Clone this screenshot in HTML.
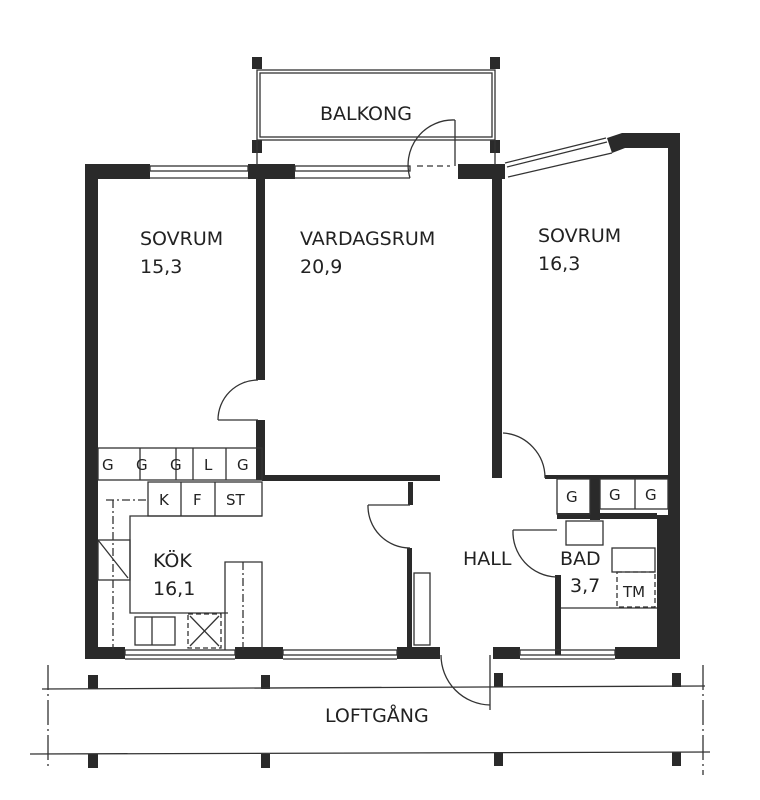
<!DOCTYPE html>
<html><head><meta charset="utf-8"><style>
html,body{margin:0;padding:0;background:#fff;}
svg{display:block}
text{font-family:"DejaVu Sans","Liberation Sans",sans-serif;fill:#222;}
</style></head><body>
<svg width="760" height="800" viewBox="0 0 760 800" xmlns="http://www.w3.org/2000/svg">
<g fill="#2a2a2a" stroke="none">
<rect x="85" y="165" width="13" height="493"/>
<rect x="85" y="164" width="65" height="15"/>
<rect x="248" y="164" width="47" height="15"/>
<rect x="458" y="164" width="47" height="15"/>
<polygon points="607,138 622,133 680,133 680,148 625,148 612,153"/>
<rect x="668" y="133" width="12" height="522"/>
<rect x="657" y="515" width="23" height="140"/>
<rect x="256" y="178" width="9" height="202"/>
<rect x="256" y="420" width="9" height="60"/>
<rect x="262" y="475" width="178" height="6"/>
<rect x="492" y="178" width="10" height="300"/>
<rect x="590" y="475" width="10" height="45"/>
<rect x="545" y="475" width="123" height="4"/>
<rect x="557" y="513" width="100" height="6"/>
<rect x="555" y="575" width="6" height="80"/>
<rect x="408" y="482" width="5" height="23"/>
<rect x="407" y="548" width="5" height="100"/>
<rect x="85" y="647" width="40" height="12"/>
<rect x="235" y="647" width="48" height="12"/>
<rect x="397" y="647" width="43" height="12"/>
<rect x="493" y="647" width="27" height="12"/>
<rect x="615" y="647" width="65" height="12"/>
<rect x="252" y="57" width="10" height="12"/><rect x="490" y="57" width="10" height="12"/>
<rect x="252" y="140" width="10" height="13"/><rect x="490" y="140" width="10" height="13"/>
<rect x="88" y="675" width="10" height="14"/><rect x="261" y="675" width="9" height="14"/>
<rect x="494" y="673" width="9" height="14"/><rect x="672" y="673" width="9" height="14"/>
<rect x="88" y="754" width="10" height="14"/><rect x="261" y="754" width="9" height="14"/>
<rect x="494" y="752" width="9" height="14"/><rect x="672" y="752" width="9" height="14"/>
</g>
<g fill="none" stroke="#333" stroke-width="1.3">
<rect x="150" y="166" width="98" height="5"/><line x1="150" y1="178" x2="248" y2="178"/>
<rect x="295" y="166" width="115" height="5"/><line x1="295" y1="178" x2="410" y2="178"/>
<line x1="505" y1="163" x2="606" y2="138"/><line x1="507" y1="167" x2="607" y2="142"/><line x1="508" y1="177" x2="612" y2="153"/>
<rect x="125" y="650" width="110" height="5"/><line x1="125" y1="659" x2="235" y2="659"/>
<rect x="283" y="650" width="114" height="5"/><line x1="283" y1="659" x2="397" y2="659"/>
<rect x="520" y="650" width="95" height="5"/><line x1="520" y1="659" x2="615" y2="659"/>
<rect x="257" y="70" width="238" height="70"/>
<rect x="260" y="73" width="232" height="64"/>
<line x1="257" y1="140" x2="257" y2="165"/>
<line x1="495" y1="140" x2="495" y2="165"/>
<path d="M410 178 A45 45 0 0 1 455 120"/><line x1="455" y1="120" x2="455" y2="166"/>
<line x1="417" y1="166" x2="450" y2="166" stroke-dasharray="6,4"/>
<path d="M218 420 A40 40 0 0 1 258 380"/><line x1="218" y1="420" x2="258" y2="420"/>
<path d="M503 433 A45 45 0 0 1 545 478"/>
<rect x="98" y="448" width="164" height="32"/>
<line x1="140" y1="448" x2="140" y2="480"/><line x1="176" y1="448" x2="176" y2="480"/>
<line x1="193" y1="448" x2="193" y2="480"/><line x1="226" y1="448" x2="226" y2="480"/>
<rect x="148" y="482" width="114" height="34"/>
<line x1="181" y1="482" x2="181" y2="516"/><line x1="215" y1="482" x2="215" y2="516"/>
<polyline points="262,516 130,516 130,613 228,613"/>
<polyline points="225,650 225,562 262,562 262,650"/>
<line x1="243" y1="562" x2="243" y2="650" stroke-dasharray="8,3,2,3"/>
<line x1="113" y1="500" x2="113" y2="650" stroke-dasharray="8,3,2,3"/>
<line x1="106" y1="500" x2="146" y2="500" stroke-dasharray="8,3,2,3"/>
<rect x="98" y="540" width="32" height="40"/><line x1="98" y1="540" x2="128" y2="578"/>
<rect x="135" y="617" width="40" height="28"/><line x1="152" y1="617" x2="152" y2="645"/>
<rect x="188" y="614" width="33" height="34" stroke-dasharray="5,3"/>
<line x1="190" y1="616" x2="219" y2="646"/><line x1="219" y1="616" x2="190" y2="646"/>
<path d="M368 505 A42 42 0 0 0 410 548"/><line x1="368" y1="505" x2="410" y2="505"/>
<rect x="414" y="573" width="16" height="72"/>
<path d="M441 655 A50 50 0 0 0 490 705"/><line x1="490" y1="655" x2="490" y2="710"/>
<rect x="557" y="479" width="33" height="35"/>
<rect x="600" y="479" width="68" height="30"/><line x1="635" y1="479" x2="635" y2="509"/>
<path d="M513 530 A45 45 0 0 0 556 577"/><line x1="513" y1="530" x2="557" y2="530"/>
<rect x="566" y="521" width="37" height="24"/>
<rect x="612" y="548" width="43" height="24"/>
<rect x="617" y="572" width="38" height="35" stroke-dasharray="5,3"/>
<line x1="561" y1="608" x2="657" y2="608"/>
<line x1="42" y1="689" x2="705" y2="686"/>
<line x1="30" y1="754" x2="710" y2="752"/>
<line x1="48" y1="665" x2="48" y2="770" stroke-dasharray="25,4,2,4"/>
<line x1="703" y1="665" x2="703" y2="775" stroke-dasharray="25,4,2,4"/>
</g>
<g font-size="19">
<text x="320" y="120">BALKONG</text>
<text x="140" y="245">SOVRUM</text><text x="140" y="273">15,3</text>
<text x="300" y="245">VARDAGSRUM</text><text x="300" y="273">20,9</text>
<text x="538" y="242">SOVRUM</text><text x="538" y="270">16,3</text>
<text x="153" y="567">KÖK</text><text x="153" y="595">16,1</text>
<text x="463" y="565">HALL</text>
<text x="560" y="565">BAD</text><text x="570" y="592">3,7</text>
<text x="325" y="722">LOFTGÅNG</text>
</g>
<g font-size="15">
<text x="102" y="470">G</text><text x="136" y="470">G</text><text x="170" y="470">G</text><text x="204" y="470">L</text><text x="237" y="470">G</text>
<text x="159" y="505">K</text><text x="193" y="505">F</text><text x="226" y="505">ST</text>
<text x="566" y="502">G</text><text x="609" y="500">G</text><text x="645" y="500">G</text>
<text x="623" y="597">TM</text>
</g>
</svg>
</body></html>
